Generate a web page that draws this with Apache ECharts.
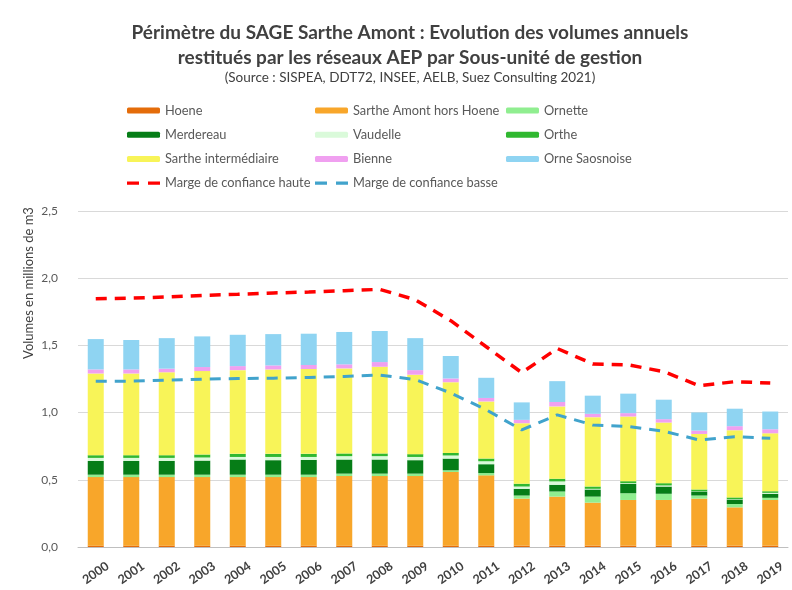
<!DOCTYPE html>
<html><head><meta charset="utf-8">
<script src="https://cdn.jsdelivr.net/npm/echarts@6/dist/echarts.min.js"></script>
<style>html,body{margin:0;padding:0;background:#fff}#c{width:792px;height:590px}</style>
</head><body><div id="c"></div>
<script>
const years = ['2000','2001','2002','2003','2004','2005','2006','2007','2008','2009','2010','2011','2012','2013','2014','2015','2016','2017','2018','2019'];
const hoene      = [0.01,0.01,0.01,0.01,0.01,0.01,0.01,0.01,0.01,0.01,0.01,0.01,0.01,0.01,0.01,0.01,0.01,0.01,0.01,0.01];
const sartheAmont= [0.51,0.51,0.51,0.51,0.51,0.51,0.51,0.518,0.518,0.518,0.548,0.523,0.35,0.365,0.32,0.34,0.34,0.35,0.285,0.34];
const ornette    = [0.018,0.018,0.018,0.018,0.018,0.018,0.018,0.018,0.018,0.018,0.013,0.017,0.023,0.038,0.045,0.05,0.046,0.023,0.025,0.016];
const merdereau  = [0.102,0.102,0.102,0.105,0.113,0.108,0.11,0.105,0.105,0.10,0.087,0.066,0.05,0.05,0.053,0.07,0.054,0.03,0.033,0.03];
const vaudelle   = [0.023,0.023,0.023,0.023,0.019,0.024,0.022,0.025,0.025,0.024,0.023,0.022,0.017,0.025,0.005,0.005,0.008,0.002,0.003,0.007];
const orthe      = [0.02,0.02,0.02,0.022,0.023,0.023,0.023,0.02,0.02,0.021,0.019,0.02,0.021,0.02,0.017,0.015,0.017,0.013,0.013,0.012];
const sartheInter= [0.608,0.608,0.617,0.621,0.623,0.628,0.631,0.633,0.645,0.591,0.526,0.425,0.45,0.538,0.516,0.481,0.451,0.413,0.50,0.431];
const bienne     = [0.03,0.03,0.027,0.03,0.03,0.03,0.03,0.03,0.035,0.034,0.028,0.026,0.025,0.033,0.025,0.025,0.025,0.025,0.03,0.03];
const orneSaos   = [0.226,0.219,0.227,0.228,0.233,0.233,0.233,0.241,0.231,0.238,0.167,0.15,0.13,0.155,0.135,0.145,0.145,0.135,0.13,0.132];
const margeHaute = [1.847,1.852,1.86,1.872,1.88,1.89,1.897,1.907,1.917,1.84,1.684,1.49,1.297,1.477,1.362,1.355,1.305,1.20,1.23,1.22];
const margeBasse = [1.234,1.234,1.241,1.249,1.254,1.256,1.261,1.269,1.279,1.246,1.146,1.021,0.871,0.983,0.908,0.897,0.862,0.796,0.821,0.809];
const yTicks = ['0,0','0,5','1,0','1,5','2,0','2,5'];

const FONT = 'Lato';
const DASH_ICON = 'path://M0,0L0,6M0,1.4H12V4.6H0ZM21,1.4H33V4.6H21Z';
const chart = echarts.init(document.getElementById('c'), null, {renderer:'canvas'});
function bar(name, data, color){
  return {name, type:'bar', stack:'v', data, barWidth:16, itemStyle:{color}, emphasis:{disabled:true}};
}
function line(name, data, color, w){
  return {name, type:'line', data, symbol:'none', showSymbol:false, z:5,
    lineStyle:{color, width:w, type:[11,8]}, itemStyle:{color}};
}
const legendBase = {orient:'vertical', top:104, itemGap:11.2, itemWidth:33, itemHeight:6, itemStyle:{borderWidth:0},
  textStyle:{fontFamily:FONT, fontSize:12.8, color:'#595959'}, selectedMode:false, padding:0};
chart.setOption({
  animation:false,
  backgroundColor:'#ffffff',
  title:{
    text:'Périmètre du SAGE Sarthe Amont : Evolution des volumes annuels\nrestitués par les réseaux AEP par Sous-unité de gestion',
    subtext:'(Source : SISPEA, DDT72, INSEE, AELB, Suez Consulting 2021)',
    left:410, top:20, textAlign:'center', itemGap:1, padding:0,
    textStyle:{fontFamily:FONT, fontWeight:'bold', fontSize:19, color:'#404040', lineHeight:25},
    subtextStyle:{fontFamily:FONT, fontSize:13.5, color:'#404040'}
  },
  legend:[
    Object.assign({}, legendBase, {left:127, data:['Hoene','Merdereau','Sarthe intermédiaire',{name:'Marge de confiance haute', icon:DASH_ICON}]}),
    Object.assign({}, legendBase, {left:315, data:['Sarthe Amont hors Hoene','Vaudelle','Bienne',{name:'Marge de confiance basse', icon:DASH_ICON}]}),
    Object.assign({}, legendBase, {left:506, data:['Ornette','Orthe','Orne Saosnoise']})
  ],
  grid:{left:78, right:4, top:211, bottom:43, containLabel:false},
  xAxis:{type:'category', data:years,
    axisLine:{lineStyle:{color:'#BFBFBF'}}, axisTick:{show:false},
    axisLabel:{rotate:35, margin:26, align:'center', verticalAlign:'middle', fontFamily:FONT, fontWeight:'bold', fontSize:12.5, color:'#404040'}},
  yAxis:{type:'value', min:0, max:2.5, interval:0.5,
    axisLine:{show:false}, axisTick:{show:false},
    splitLine:{lineStyle:{color:'#D9D9D9'}},
    axisLabel:{margin:20, fontFamily:FONT, fontSize:12, color:'#595959',
      formatter:(v)=> yTicks[Math.round(v/0.5)]}},
  graphic:[{type:'text', x:29, y:283, rotation:Math.PI/2,
    style:{text:'Volumes en millions de m3', fontFamily:FONT, fontSize:13, fill:'#404040', align:'center', verticalAlign:'middle'}}],
  series:[
    bar('Hoene', hoene, '#E46C0A'),
    bar('Sarthe Amont hors Hoene', sartheAmont, '#F8A62A'),
    bar('Ornette', ornette, '#90EE90'),
    bar('Merdereau', merdereau, '#067D17'),
    bar('Vaudelle', vaudelle, '#DAFADA'),
    bar('Orthe', orthe, '#30B830'),
    bar('Sarthe intermédiaire', sartheInter, '#F8F458'),
    bar('Bienne', bienne, '#F0A0F0'),
    bar('Orne Saosnoise', orneSaos, '#8FD4F2'),
    line('Marge de confiance haute', margeHaute, '#FF0000', 3.5),
    line('Marge de confiance basse', margeBasse, '#41A3CC', 3)
  ]
});
</script></body></html>
